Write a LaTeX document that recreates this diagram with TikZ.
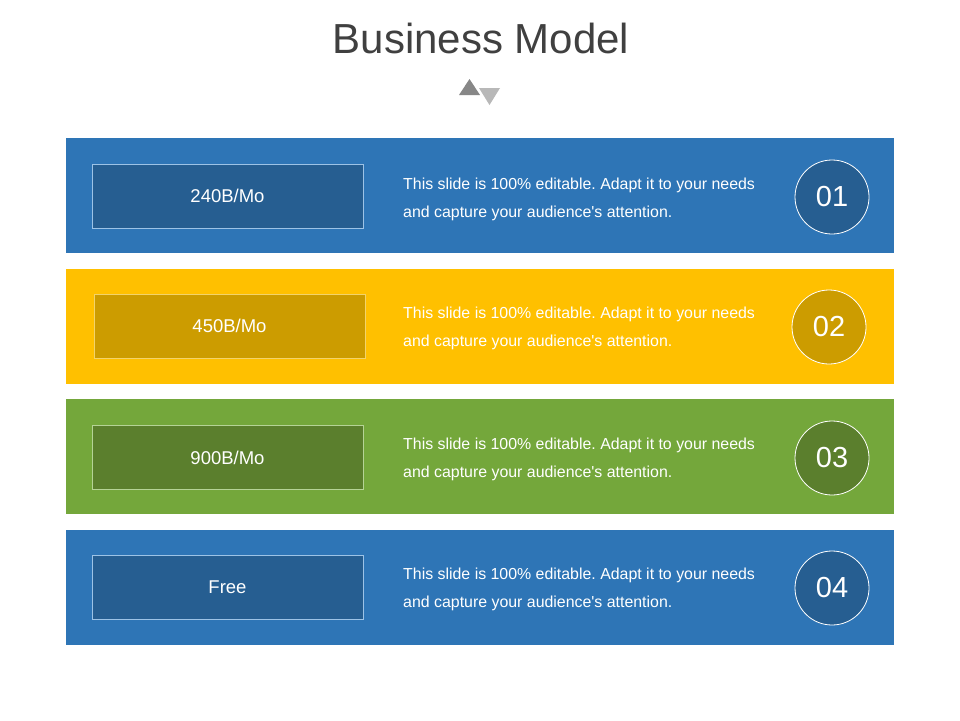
\documentclass[tikz,border=0pt]{standalone}
\usepackage{fontspec}
\setmainfont{Liberation Sans}
\usetikzlibrary{positioning}
\definecolor{bandblue}{HTML}{2E75B6}
\definecolor{boxblue}{HTML}{265E91}
\definecolor{edgeblue}{HTML}{9DC3E6}
\definecolor{bandyellow}{HTML}{FFC000}
\definecolor{boxyellow}{HTML}{CC9C00}
\definecolor{edgeyellow}{HTML}{F2D36B}
\definecolor{bandgreen}{HTML}{74A73B}
\definecolor{boxgreen}{HTML}{5B7F2D}
\definecolor{edgegreen}{HTML}{B5D396}
\newcommand{\slidetext}{This slide is 100\% editable. Adapt it to your needs\\and capture your audience\textquotesingle s attention.}
\tikzset{band/.style={rectangle, minimum width=828pt, minimum height=115pt, inner sep=0pt, anchor=north west},
    pricebox/.style={rectangle, draw, line width=0.8pt, minimum width=271pt, minimum height=64pt, inner sep=0pt, text=white, font=\fontsize{18.5}{20}\selectfont},
    info/.style={anchor=west, inner sep=0pt, align=left, text=white, font=\fontsize{15.9}{28}\selectfont\frenchspacing},
    num/.style={circle, draw=white, line width=0.8pt, minimum size=74pt, inner sep=0pt, text=white, font=\fontsize{29}{30}\selectfont}}

\begin{document}
\begin{tikzpicture}[x=1pt, y=-1pt]
        \useasboundingbox [fill=white] (0,0) rectangle (960,720);
        % Title
        \node [text=black!75, font=\fontsize{42}{44}\selectfont] (title) at (481,38) {Business Model};
        \fill [black!47] (459,95) -- (469.5,79) -- (480,95) -- cycle;
        \fill [black!28] (479,88) -- (500,88) -- (489.5,105) -- cycle;
        % Bands
        \node [band, fill=bandblue] (B1) at (66,138) {};
        \node [band, fill=bandyellow] (B2) at (66,269) {};
        \node [band, fill=bandgreen] (B3) at (66,399) {};
        \node [band, fill=bandblue] (B4) at (66,530) {};
        % Price boxes
        \node [pricebox, fill=boxblue, draw=edgeblue] (P1) at (227.5,196) {240B/Mo};
        \node [pricebox, fill=boxyellow, draw=edgeyellow] (P2) at (229.5,326) {450B/Mo};
        \node [pricebox, fill=boxgreen, draw=edgegreen] (P3) at (227.5,457.5) {900B/Mo};
        \node [pricebox, fill=boxblue, draw=edgeblue] (P4) at (227.5,587.5) {Free};
        % Texts
        \node [info] (T1) at (403,199.5) {\slidetext};
        \node [info] (T2) at (403,328.5) {\slidetext};
        \node [info] (T3) at (403,459.5) {\slidetext};
        \node [info] (T4) at (403,589.5) {\slidetext};
        % Numbers
        \node [num, fill=boxblue] (N1) at (832,197) {01};
        \node [num, fill=boxyellow] (N2) at (829,327) {02};
        \node [num, fill=boxgreen] (N3) at (832,458) {03};
        \node [num, fill=boxblue] (N4) at (832,588) {04};
    \end{tikzpicture}
\end{document}
